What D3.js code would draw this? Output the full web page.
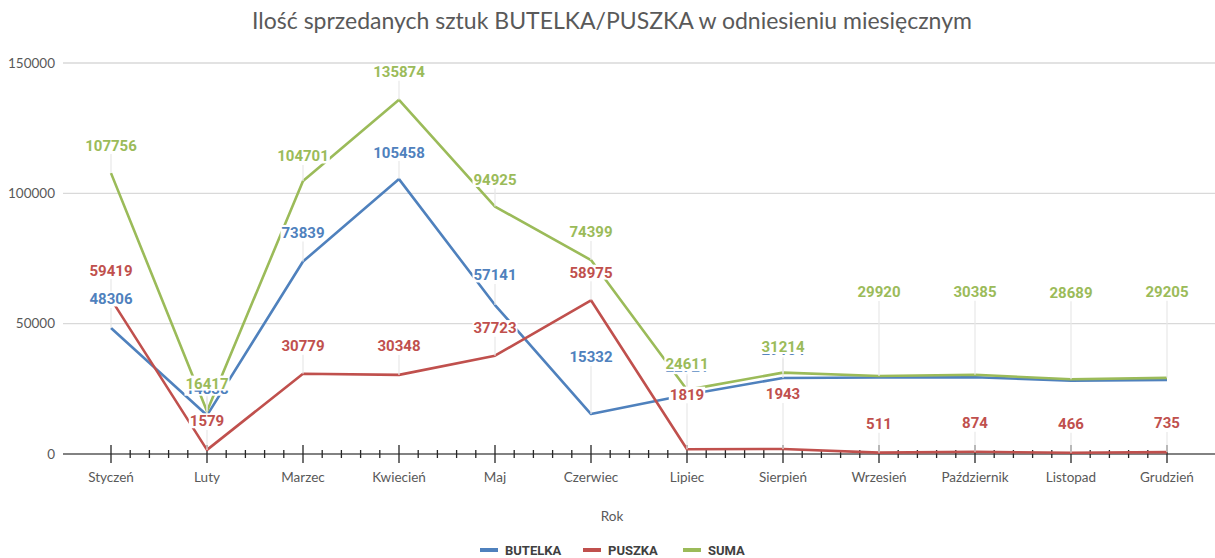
<!DOCTYPE html>
<html><head><meta charset="utf-8">
<script src="https://cdn.jsdelivr.net/npm/d3@7"></script>
<style>
html,body{margin:0;padding:0;background:#fff;}
svg{display:block;}
</style></head>
<body>
<svg id="chart" width="1215" height="558"></svg>
<script>
// ---- data ----
const months = ["Styczeń","Luty","Marzec","Kwiecień","Maj","Czerwiec","Lipiec","Sierpień","Wrzesień","Październik","Listopad","Grudzień"];
const butelka = [48306,14838,73839,105458,57141,15332,22721,29164,29340,29441,28153,28400];
const puszka  = [59419,1579,30779,30348,37723,58975,1819,1943,511,874,466,735];
const suma    = [107756,16417,104701,135874,94925,74399,24611,31214,29920,30385,28689,29205];
const yTicks = [0,50000,100000,150000];
const seriesNames = ["BUTELKA","PUSZKA","SUMA"];
const titleText = "Ilość sprzedanych sztuk BUTELKA/PUSZKA w odniesieniu miesięcznym";
const xAxisTitle = "Rok";
// which data labels are shown (hidden ones in the original are fully covered)
const butelkaLabelShown = [1,1,1,1,1,1,1,1,0,0,0,0];

// ---- layout (label placement offsets in px above point) ----
const colors = ["#4F81BD","#C0504D","#9BBB59"];
const labelLift = [
  [-29,-27,-29,-27,-30,-57,-28,-28,-28,-28,-28,-28],
  [-29,-29,-28,-29,-28,-28,-55,-55,-29,-29,-29,-29],
  [-28,-28,-25,-28,-27,-28,-26,-26,-84,-83,-87,-86]
];

(function(){
const svg = d3.select("#chart");
const mLeft = 63, mRight = 1215, mTop = 63, mBottom = 454;

const x = d3.scalePoint().domain(months).range([mLeft, mRight]).padding(0.5);
const y = d3.scaleLinear().domain([0,150000]).range([mBottom, mTop]);

// title
svg.append("text").attr("x", 612).attr("y", 29).attr("text-anchor","middle")
  .attr("font-family","Lato, 'Open Sans', sans-serif").attr("font-size", 23)
  .attr("fill","#595959").text(titleText);

// gridlines
svg.append("g").selectAll("line").data(yTicks.filter(d=>d>0)).join("line")
  .attr("x1", mLeft).attr("x2", mRight)
  .attr("y1", d=>y(d)).attr("y2", d=>y(d))
  .attr("stroke","#d9d9d9").attr("stroke-width",1.3);

// y axis labels
svg.append("g").selectAll("text").data(yTicks).join("text")
  .attr("x", 55).attr("y", d=>y(d)).attr("dy","0.35em").attr("text-anchor","end")
  .attr("font-family","Lato, 'Open Sans', sans-serif").attr("font-size",13.5)
  .attr("fill","#595959").text(d=>d);

// x axis line
svg.append("line").attr("x1", mLeft).attr("x2", mRight).attr("y1", mBottom).attr("y2", mBottom)
  .attr("stroke","#595959").attr("stroke-width",1.3);

// major & minor ticks
const step = x.step();
const ticksG = svg.append("g").attr("stroke","#262626").attr("stroke-width",1.3);
months.forEach((m,i)=>{
  const cx = x(m);
  ticksG.append("line").attr("x1",cx).attr("x2",cx).attr("y1",mBottom-9).attr("y2",mBottom+9);
  if (i < months.length-1) {
    for (let k=1;k<=4;k++){
      const mx = cx + step*k/5;
      ticksG.append("line").attr("x1",mx).attr("x2",mx).attr("y1",mBottom-4).attr("y2",mBottom+4);
    }
  }
});

// x labels
svg.append("g").selectAll("text").data(months).join("text")
  .attr("x", d=>x(d)).attr("y", 477).attr("dy","0.35em").attr("text-anchor","middle")
  .attr("font-family","Lato, 'Open Sans', sans-serif").attr("font-size",13.5)
  .attr("fill","#595959").text(d=>d);

// axis title
svg.append("text").attr("x",612).attr("y",516).attr("dy","0.35em").attr("text-anchor","middle")
  .attr("font-family","Lato, 'Open Sans', sans-serif").attr("font-size",13.5)
  .attr("fill","#595959").text(xAxisTitle);

// lines
const allSeries = [butelka, puszka, suma];
const line = d3.line().x((d,i)=>x(months[i])).y(d=>y(d));
allSeries.forEach((s,si)=>{
  svg.append("path").datum(s).attr("d", line).attr("fill","none")
    .attr("stroke", colors[si]).attr("stroke-width",2.6).attr("stroke-linejoin","round");
});

// leader lines
const leaderG = svg.append("g").attr("stroke","#e8e8e8").attr("stroke-width",1.2);
allSeries.forEach((s,si)=>{
  s.forEach((v,i)=>{
    if (si===0 && !butelkaLabelShown[i]) return;
    const px = x(months[i]), py = y(v);
    leaderG.append("line").attr("x1",px).attr("x2",px).attr("y1",py).attr("y2",py+labelLift[si][i]+9);
  });
});

// data labels
allSeries.forEach((s,si)=>{
  const g = svg.append("g");
  s.forEach((v,i)=>{
    if (si===0 && !butelkaLabelShown[i]) return;
    const px = x(months[i]), py = y(v) + labelLift[si][i];
    const t = g.append("text").attr("x",px).attr("y",py).attr("dy","0.36em")
      .attr("text-anchor","middle").attr("font-family","Roboto, sans-serif")
      .attr("font-weight","bold").attr("font-size",15).attr("fill",colors[si]).text(v);
    const bb = t.node().getBBox();
    g.insert("rect", function(){ return t.node(); })
      .attr("x",bb.x-1).attr("y",bb.y+1).attr("width",bb.width+2).attr("height",bb.height-3)
      .attr("fill","#fff");
  });
});

// legend
const legendX = [480,583,683];
seriesNames.forEach((n,i)=>{
  const lx = legendX[i];
  svg.append("line").attr("x1",lx).attr("x2",lx+18).attr("y1",550).attr("y2",550)
    .attr("stroke",colors[i]).attr("stroke-width",4);
  svg.append("text").attr("x",lx+25).attr("y",550).attr("dy","0.35em")
    .attr("font-family","Roboto, sans-serif").attr("font-weight","bold").attr("font-size",13)
    .attr("fill","#404040").text(n);
});
})();
</script>
</body></html>
